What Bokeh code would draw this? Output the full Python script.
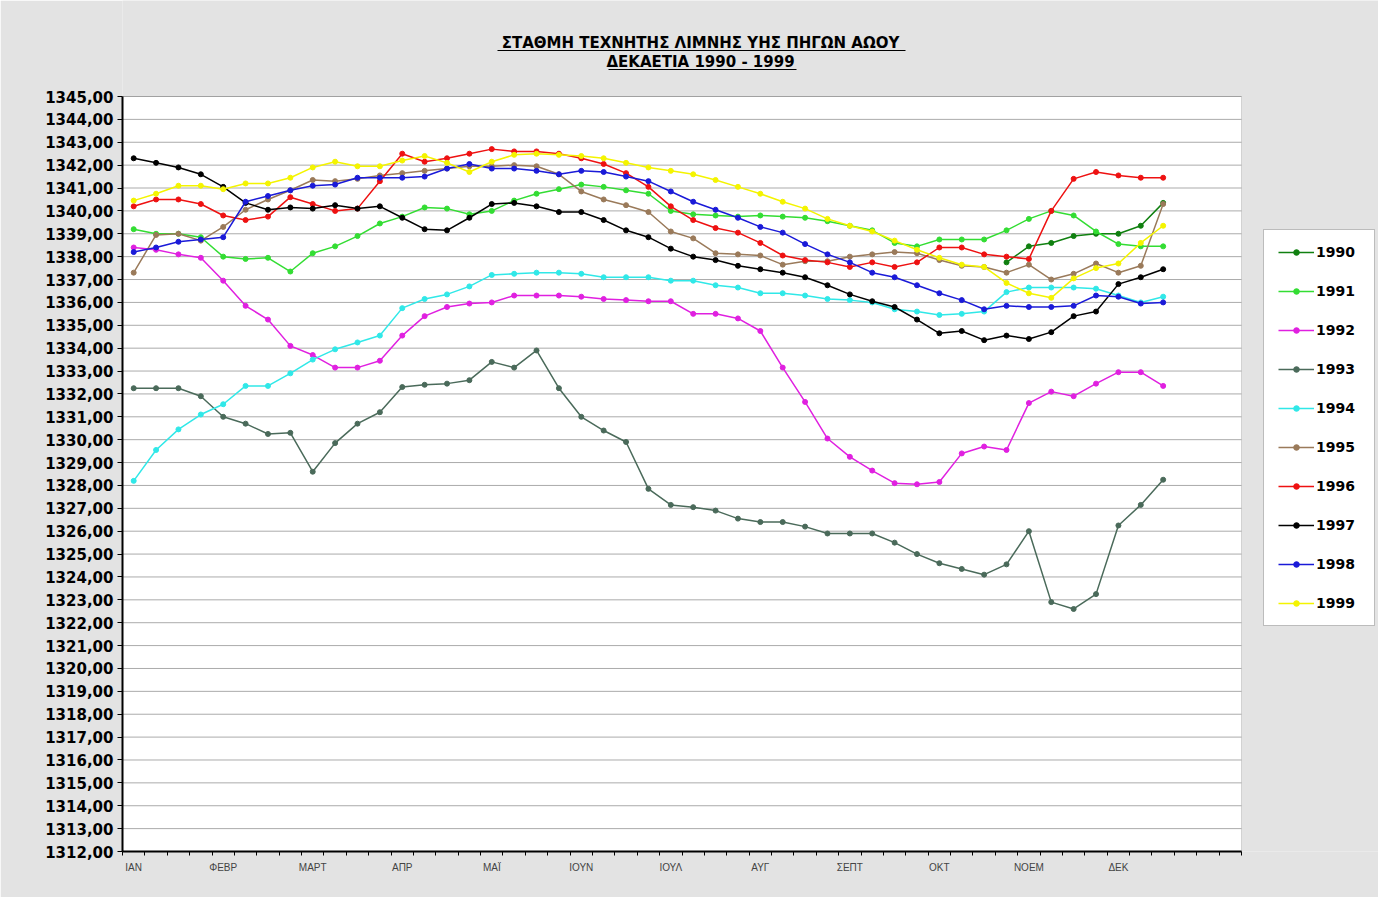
from bokeh.plotting import figure
from bokeh.models import (Range1d, FixedTicker, Legend, LegendItem, Label,
                          BoxAnnotation)
from bokeh.embed import file_html
from bokeh.resources import INLINE

nan = float("nan")

# Reservoir water level (m) sampled four times per month, 47 readings per year
months = ["ΙΑΝ", "ΦΕΒΡ", "ΜΑΡΤ", "ΑΠΡ", "ΜΑΪ", "ΙΟΥΝ",
          "ΙΟΥΛ", "ΑΥΓ", "ΣΕΠΤ", "ΟΚΤ", "ΝΟΕΜ", "ΔΕΚ"]
steps = list(range(47))

y1990 = [nan] * 39 + [1337.75, 1338.45, 1338.6, 1338.9, 1339.0, 1339.0, 1339.35, 1340.35]
y1991 = [1339.2, 1339.0, 1339.0, 1338.85, 1338.0, 1337.9, 1337.95, 1337.35, 1338.15, 1338.45,
         1338.9, 1339.45, 1339.75, 1340.15, 1340.1, 1339.85, 1340.0, 1340.45, 1340.75, 1340.95,
         1341.15, 1341.05, 1340.9, 1340.75, 1340.0, 1339.85, 1339.8, 1339.75, 1339.8, 1339.75,
         1339.7, 1339.55, 1339.35, 1339.15, 1338.6, 1338.45, 1338.75, 1338.75, 1338.75, 1339.15,
         1339.65, 1340.0, 1339.8, 1339.1, 1338.55, 1338.45, 1338.45]
y1992 = [1338.4, 1338.3, 1338.1, 1337.95, 1336.95, 1335.85, 1335.25, 1334.1, 1333.7, 1333.15,
         1333.15, 1333.45, 1334.55, 1335.4, 1335.8, 1335.95, 1336.0, 1336.3, 1336.3, 1336.3,
         1336.25, 1336.15, 1336.1, 1336.05, 1336.05, 1335.5, 1335.5, 1335.3, 1334.75, 1333.15,
         1331.65, 1330.05, 1329.25, 1328.65, 1328.1, 1328.05, 1328.15, 1329.4, 1329.7, 1329.55,
         1331.6, 1332.1, 1331.9, 1332.45, 1332.95, 1332.95, 1332.35]
y1993 = [1332.25, 1332.25, 1332.25, 1331.9, 1331.0, 1330.7, 1330.25, 1330.3, 1328.6, 1329.85,
         1330.7, 1331.2, 1332.3, 1332.4, 1332.45, 1332.6, 1333.4, 1333.15, 1333.9, 1332.25,
         1331.0, 1330.4, 1329.9, 1327.85, 1327.15, 1327.05, 1326.9, 1326.55, 1326.4, 1326.4,
         1326.2, 1325.9, 1325.9, 1325.9, 1325.5, 1325.0, 1324.6, 1324.35, 1324.1, 1324.55,
         1326.0, 1322.9, 1322.6, 1323.25, 1326.25, 1327.15, 1328.25]
y1994 = [1328.2, 1329.55, 1330.45, 1331.1, 1331.55, 1332.35, 1332.35, 1332.9, 1333.5, 1333.95,
         1334.25, 1334.55, 1335.75, 1336.15, 1336.35, 1336.7, 1337.2, 1337.25, 1337.3, 1337.3,
         1337.25, 1337.1, 1337.1, 1337.1, 1336.95, 1336.95, 1336.75, 1336.65, 1336.4, 1336.4,
         1336.3, 1336.15, 1336.1, 1336.0, 1335.7, 1335.6, 1335.45, 1335.5, 1335.6, 1336.45,
         1336.65, 1336.65, 1336.65, 1336.6, 1336.3, 1336.0, 1336.25]
y1995 = [1337.3, 1338.95, 1339.0, 1338.7, 1339.3, 1340.05, 1340.5, 1340.9, 1341.35, 1341.3,
         1341.4, 1341.55, 1341.65, 1341.75, 1341.85, 1341.95, 1341.95, 1342.0, 1341.95, 1341.6,
         1340.85, 1340.5, 1340.25, 1339.95, 1339.1, 1338.8, 1338.15, 1338.1, 1338.05, 1337.65,
         1337.8, 1337.8, 1338.0, 1338.1, 1338.2, 1338.15, 1337.85, 1337.6, 1337.55, 1337.3,
         1337.65, 1337.0, 1337.25, 1337.7, 1337.3, 1337.6, 1340.3]
y1996 = [1340.2, 1340.5, 1340.5, 1340.3, 1339.8, 1339.6, 1339.75, 1340.6, 1340.3, 1340.0,
         1340.1, 1341.3, 1342.5, 1342.15, 1342.3, 1342.5, 1342.7, 1342.6, 1342.6, 1342.5,
         1342.3, 1342.05, 1341.65, 1341.05, 1340.2, 1339.6, 1339.25, 1339.05, 1338.6, 1338.05,
         1337.85, 1337.75, 1337.55, 1337.75, 1337.55, 1337.75, 1338.4, 1338.4, 1338.1, 1338.0,
         1337.9, 1340.0, 1341.4, 1341.7, 1341.55, 1341.45, 1341.45]
y1997 = [1342.3, 1342.1, 1341.9, 1341.6, 1341.05, 1340.35, 1340.05, 1340.15, 1340.1, 1340.25,
         1340.1, 1340.2, 1339.7, 1339.2, 1339.15, 1339.7, 1340.3, 1340.35, 1340.2, 1339.95,
         1339.95, 1339.6, 1339.15, 1338.85, 1338.35, 1338.0, 1337.85, 1337.6, 1337.45, 1337.3,
         1337.1, 1336.75, 1336.35, 1336.05, 1335.8, 1335.25, 1334.65, 1334.75, 1334.35, 1334.55,
         1334.4, 1334.7, 1335.4, 1335.6, 1336.8, 1337.1, 1337.45]
y1998 = [1338.2, 1338.4, 1338.65, 1338.75, 1338.85, 1340.4, 1340.65, 1340.9, 1341.1, 1341.15,
         1341.45, 1341.45, 1341.45, 1341.5, 1341.85, 1342.05, 1341.85, 1341.85, 1341.75, 1341.6,
         1341.75, 1341.7, 1341.5, 1341.3, 1340.85, 1340.4, 1340.05, 1339.7, 1339.3, 1339.05,
         1338.55, 1338.1, 1337.75, 1337.3, 1337.1, 1336.75, 1336.4, 1336.1, 1335.7, 1335.85,
         1335.8, 1335.8, 1335.85, 1336.3, 1336.25, 1335.95, 1336.0]
y1999 = [1340.45, 1340.75, 1341.1, 1341.1, 1340.95, 1341.2, 1341.2, 1341.45, 1341.9, 1342.15,
         1341.95, 1341.95, 1342.2, 1342.4, 1342.1, 1341.7, 1342.15, 1342.45, 1342.5, 1342.45,
         1342.4, 1342.3, 1342.1, 1341.9, 1341.75, 1341.6, 1341.35, 1341.05, 1340.75, 1340.4,
         1340.1, 1339.65, 1339.35, 1339.1, 1338.7, 1338.3, 1337.95, 1337.65, 1337.55, 1336.85,
         1336.4, 1336.2, 1337.05, 1337.5, 1337.7, 1338.6, 1339.35]

years = ["1990", "1991", "1992", "1993", "1994", "1995", "1996", "1997", "1998", "1999"]
levels = [y1990, y1991, y1992, y1993, y1994, y1995, y1996, y1997, y1998, y1999]
colors = ["#108010", "#33dd33", "#e020e0", "#4a6a5a", "#30e8e8",
          "#9a7a5a", "#ee1111", "#000000", "#1a1ad8", "#f4f400"]

y_ticks = list(range(1312, 1346))
n_slots = 50  # category slots on the horizontal axis
Y_LO, Y_HI = 1312, 1345

W, H = 1378, 897
FL, FR, FT, FB = 122, 1241, 96, 851   # plot area edges on the page
px_x = (FR - FL) / n_slots            # pixels per slot
px_y = (FB - FT) / (Y_HI - Y_LO)      # pixels per metre

# The drawing frame reaches the top and right edges of the page so that the
# title, legend and plot-area border are not clipped; the axes are bounded
# to the plot area itself.
x_end = n_slots - 0.5 + (W - FR) / px_x
y_end = Y_HI + FT / px_y

p = figure(width=W, height=H, output_backend="svg", toolbar_location=None,
           x_range=Range1d(-0.5, x_end), y_range=Range1d(Y_LO, y_end),
           min_border_left=FL, min_border_right=0,
           min_border_top=0, min_border_bottom=H - FB)
p.title.visible = False
p.border_fill_color = "#e3e3e3"
p.background_fill_color = "#e3e3e3"
p.outline_line_color = None
p.xgrid.grid_line_color = None
p.ygrid.grid_line_color = None

# white plot area with a grey border on top and right
p.add_layout(BoxAnnotation(left=-0.5, right=n_slots - 0.5, bottom=Y_LO, top=Y_HI,
                           fill_color="white", fill_alpha=1, line_color=None,
                           level="image"))
p.add_layout(BoxAnnotation(left=-0.5, right=n_slots - 0.5, bottom=Y_LO, top=Y_HI,
                           fill_alpha=0, line_color="#8a8a8a", line_width=1,
                           level="underlay"))

# horizontal grid lines, one per metre
p.segment(x0=[-0.5] * len(y_ticks), x1=[n_slots - 0.5] * len(y_ticks),
          y0=y_ticks, y1=y_ticks, line_color="#ababab", line_width=1,
          level="underlay")

# y axis: one tick per metre, labels with a decimal comma
yax = p.yaxis[0]
yax.bounds = (Y_LO, Y_HI)
yax.ticker = FixedTicker(ticks=y_ticks)
yax.major_label_overrides = {t: f"{t},00" for t in y_ticks}
yax.axis_line_color = "black"
yax.axis_line_width = 2
yax.major_tick_out = 5
yax.major_tick_in = 0
yax.major_tick_line_color = "black"
yax.minor_tick_line_color = None
yax.major_label_standoff = 4
yax.major_label_text_font = "DejaVu Sans"
yax.major_label_text_font_style = "bold"
yax.major_label_text_font_size = "15px"
yax.major_label_text_color = "black"

# x axis: month names every fourth slot, small marks between slots
xax = p.xaxis[0]
xax.bounds = (-0.5, n_slots - 0.5)
xax.ticker = FixedTicker(ticks=[4 * k for k in range(len(months))],
                         minor_ticks=[k - 0.5 for k in range(n_slots + 1)])
xax.major_label_overrides = {4 * k: m for k, m in enumerate(months)}
xax.axis_line_color = "black"
xax.axis_line_width = 2
xax.major_tick_out = 0
xax.major_tick_in = 0
xax.minor_tick_out = 4
xax.minor_tick_in = 0
xax.minor_tick_line_color = "black"
xax.minor_tick_line_width = 1
xax.major_label_standoff = 6
xax.major_label_text_font = "Liberation Sans"
xax.major_label_text_font_size = "10px"
xax.major_label_text_color = "#444444"

items = []
for yr, ys, c in zip(years, levels, colors):
    ln = p.line(steps, ys, line_color=c, line_width=1.5)
    pt = p.scatter(steps, ys, size=5, fill_color=c, line_color=c)
    items.append(LegendItem(label=yr, renderers=[ln, pt]))

legend = Legend(items=items, location=(1263 - FL, FB - 626), margin=0,
                padding=14, spacing=23, glyph_width=36, glyph_height=14,
                label_height=14, label_width=44, label_standoff=2,
                label_text_font="DejaVu Sans", label_text_font_style="bold",
                label_text_font_size="14px", label_text_color="black",
                border_line_color="#7a7a7a", border_line_width=1,
                background_fill_color="white", background_fill_alpha=1)
p.add_layout(legend)

# two-line underlined title above the plot area
title_lines = ["ΣΤΑΘΜΗ ΤΕΧΝΗΤΗΣ ΛΙΜΝΗΣ ΥΗΣ ΠΗΓΩΝ ΑΩΟΥ", "ΔΕΚΑΕΤΙΑ 1990 - 1999"]
for txt, cy in zip(title_lines, [42, 61]):
    p.add_layout(Label(x=700 - FL, y=FB - cy, x_units="screen", y_units="screen",
                       text=txt, text_align="center", text_baseline="middle",
                       text_font="DejaVu Sans", text_font_style="bold",
                       text_font_size="15px", text_color="black"))
for (x0, x1, uy) in [(497, 905, 50), (608, 796, 69)]:
    p.add_layout(BoxAnnotation(left=x0 - FL, right=x1 - FL, top=FB - uy + 0.5,
                               bottom=FB - uy - 0.5, left_units="screen",
                               right_units="screen", top_units="screen",
                               bottom_units="screen", fill_color="black",
                               fill_alpha=1, line_color=None))

open("out.html", "w").write(file_html(p, INLINE))
